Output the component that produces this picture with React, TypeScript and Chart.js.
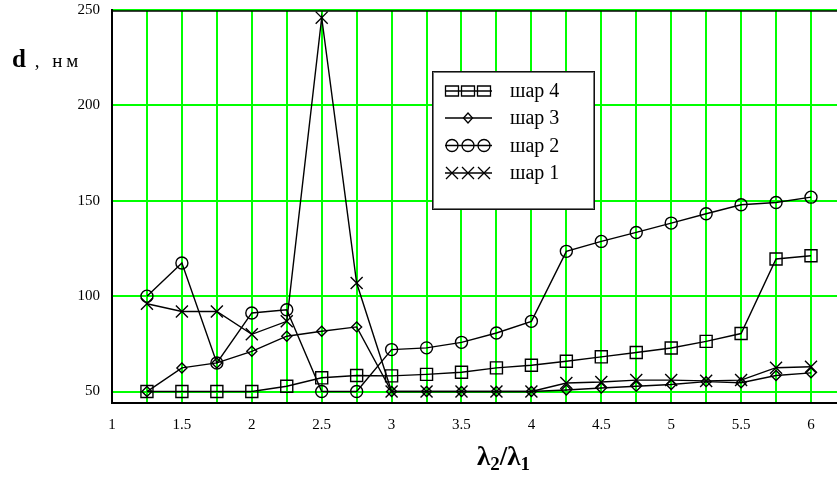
import React, { useEffect, useRef } from 'react';
import { Chart, registerables } from 'chart.js';

Chart.register(...registerables);

// ---- data ----
const xValues = [1.25, 1.5, 1.75, 2, 2.25, 2.5, 2.75, 3, 3.25, 3.5, 3.75, 4, 4.25, 4.5, 4.75, 5, 5.25, 5.5, 5.75, 6];
const shar4 = [50, 50, 50, 50, 52.8, 57.2, 58.4, 58.2, 59, 60.1, 62.4, 63.8, 65.9, 68.2, 70.5, 72.8, 76.3, 80.4, 119.5, 121.2];
const shar3 = [50, 62.4, 65, 71.1, 79, 81.6, 83.9, 50, 50, 50, 50, 50, 50.8, 51.9, 52.8, 53.7, 55.2, 54.6, 58.4, 59.8];
const shar2 = [100, 117.4, 65, 91.2, 92.9, 50, 50, 72, 72.9, 75.8, 80.7, 86.8, 123.5, 128.7, 133.4, 138.3, 143.2, 147.9, 149.1, 151.9];
const shar1 = [96, 92, 92, 80, 86.8, 246, 106.9, 50, 50, 50, 50, 50, 54.5, 55, 56, 56, 55.6, 56, 62.5, 63];
const seriesLabels = ['шар 4', 'шар 3', 'шар 2', 'шар 1'];
const seriesStyles = ['rect', 'rectRot', 'circle', 'crossRot'];
const xTickLabels = [1, 1.5, 2, 2.5, 3, 3.5, 4, 4.5, 5, 5.5, 6];
const yTickLabels = [50, 100, 150, 200, 250];

const FONT = "'Liberation Serif', 'Times New Roman', serif";

function drawMarker(ctx: CanvasRenderingContext2D, style: string, x: number, y: number) {
  ctx.beginPath();
  if (style === 'rect') {
    ctx.rect(x - 6.5, y - 5, 13, 10);
  } else if (style === 'rectRot') {
    ctx.moveTo(x, y - 5);
    ctx.lineTo(x + 4.5, y);
    ctx.lineTo(x, y + 5);
    ctx.lineTo(x - 4.5, y);
    ctx.closePath();
  } else if (style === 'circle') {
    ctx.arc(x, y, 6, 0, Math.PI * 2);
  } else {
    ctx.moveTo(x - 6, y - 6);
    ctx.lineTo(x + 6, y + 6);
    ctx.moveTo(x + 6, y - 6);
    ctx.lineTo(x - 6, y + 6);
  }
  ctx.stroke();
}

const boxLegend = {
  id: 'boxLegend',
  afterDraw(chart: any) {
    const ctx: CanvasRenderingContext2D = chart.ctx;
    const x0 = 432, y0 = 71, w = 163, h = 139;
    ctx.save();
    // top border of plot
    const ca = chart.chartArea;
    ctx.strokeStyle = '#000';
    ctx.lineWidth = 1.5;
    ctx.beginPath();
    ctx.moveTo(ca.left, ca.top + 1);
    ctx.lineTo(ca.right, ca.top + 1);
    ctx.stroke();

    ctx.fillStyle = '#fff';
    ctx.fillRect(x0, y0, w, h);
    ctx.lineWidth = 1;
    ctx.strokeStyle = '#111';
    ctx.strokeRect(x0 + 0.5, y0 + 0.5, w - 1, h - 1);
    ctx.strokeStyle = '#777';
    ctx.strokeRect(x0 + 1.5, y0 + 1.5, w - 3, h - 3);

    const rows = [91, 118, 145.5, 173];
    chart.data.datasets.forEach((ds: any, i: number) => {
      const y = rows[i];
      ctx.strokeStyle = '#000';
      ctx.lineWidth = 1.3;
      ctx.beginPath();
      ctx.moveTo(445, y);
      ctx.lineTo(492, y);
      ctx.stroke();
      const style = seriesStyles[i];
      if (style === 'rectRot') {
        drawMarker(ctx, style, 468, y);
      } else {
        [452, 468, 484].forEach((mx) => drawMarker(ctx, style, mx, y));
      }
      ctx.fillStyle = '#000';
      ctx.font = `20px ${FONT}`;
      ctx.textBaseline = 'middle';
      ctx.textAlign = 'left';
      ctx.fillText(ds.label, 510, y + 1);
    });
    ctx.restore();
  },
};

export default function App() {
  const canvasRef = useRef<HTMLCanvasElement | null>(null);

  useEffect(() => {
    document.body.style.margin = '0';
    const canvas = canvasRef.current;
    if (!canvas) return;
    const seriesData = [shar4, shar3, shar2, shar1];
    const radii = [8.5, 5, 6, 8.5];
    const chart = new Chart(canvas, {
      type: 'line',
      data: {
        datasets: seriesData.map((arr, i) => ({
          label: seriesLabels[i],
          data: arr.map((v, k) => ({ x: xValues[k], y: v })),
          borderColor: '#000',
          borderWidth: 1.4,
          pointStyle: seriesStyles[i] as any,
          pointRadius: radii[i],
          pointBorderColor: '#000',
          pointBackgroundColor: 'rgba(0,0,0,0)',
          pointBorderWidth: 1.4,
          tension: 0,
          fill: false,
          clip: false as any,
        })),
      },
      options: {
        responsive: false,
        animation: false,
        devicePixelRatio: 1,
        layout: { autoPadding: false, padding: { top: 10, left: 0, right: 0, bottom: 0 } },
        plugins: {
          legend: { display: false },
          tooltip: { enabled: false },
          title: { display: false },
        },
        scales: {
          x: {
            type: 'linear',
            min: 1,
            max: 6.186,
            afterFit: (s: any) => {
              s.height = 75;
              s.paddingLeft = 0;
              s.paddingRight = 0;
            },
            grid: { color: '#00ff00', lineWidth: 2, drawTicks: false },
            border: { display: true, color: '#000', width: 2 },
            ticks: {
              stepSize: 0.25,
              includeBounds: false,
              autoSkip: false,
              maxRotation: 0,
              padding: 13,
              color: '#000',
              font: { family: FONT, size: 15 },
              callback: (v: any) => {
                const n = Number(v);
                return xTickLabels.some((t) => Math.abs(t - n) < 1e-6) ? String(n) : '';
              },
            },
          },
          y: {
            type: 'linear',
            min: 44,
            max: 250,
            afterFit: (s: any) => {
              s.width = 112;
              s.paddingTop = 0;
              s.paddingBottom = 0;
            },
            grid: { color: '#00ff00', lineWidth: 2, drawTicks: false },
            border: { display: true, color: '#000', width: 2 },
            ticks: {
              stepSize: 50,
              includeBounds: false,
              autoSkip: false,
              padding: 12,
              color: '#000',
              font: { family: FONT, size: 15 },
              callback: (v: any) => {
                const n = Number(v);
                return yTickLabels.includes(n) ? String(n) : '';
              },
            },
          },
        },
      },
      plugins: [boxLegend],
    });
    return () => chart.destroy();
  }, []);

  return (
    <div style={{ position: 'relative', width: 837, height: 478, background: '#fff' }}>
      <canvas ref={canvasRef} width={837} height={478} style={{ display: 'block', width: 837, height: 478 }} />
      <div
        style={{
          position: 'absolute',
          left: 12,
          top: 46,
          fontFamily: FONT,
          color: '#000',
          whiteSpace: 'nowrap',
          lineHeight: 1,
        }}
      >
        <b style={{ fontSize: 25 }}>d</b>
        <span style={{ fontSize: 19, letterSpacing: 4 }}> , нм</span>
      </div>
      <div
        style={{
          position: 'absolute',
          left: 477,
          top: 443,
          fontFamily: FONT,
          fontWeight: 'bold',
          fontSize: 27,
          color: '#000',
          whiteSpace: 'nowrap',
          lineHeight: 1,
        }}
      >
        λ<sub style={{ fontSize: 19, verticalAlign: -5 }}>2</sub>/λ<sub style={{ fontSize: 19, verticalAlign: -5 }}>1</sub>
      </div>
    </div>
  );
}
